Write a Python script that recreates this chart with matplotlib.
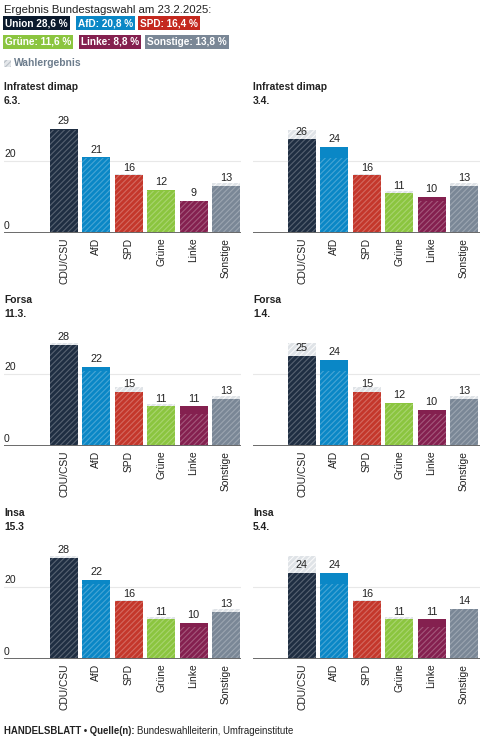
import matplotlib
matplotlib.use('Agg')
import matplotlib.pyplot as plt
from matplotlib.patches import Rectangle

plt.rcParams['font.family'] = ['Liberation Sans', 'DejaVu Sans']
plt.rcParams['hatch.linewidth'] = 0.8

# data
parties = ['CDU/CSU', 'AfD', 'SPD', 'Grüne', 'Linke', 'Sonstige']
badge_labels = ['Union 28,6 %', 'AfD: 20,8 %', 'SPD: 16,4 %',
                'Grüne: 11,6 %', 'Linke: 8,8 %', 'Sonstige: 13,8 %']
election = [28.6, 20.8, 16.4, 11.6, 8.8, 13.8]
colors = ['#1f2e42', '#0a87c6', '#c4372b', '#8bc53f', '#84204f', '#7a8796']
badge_colors = ['#0b1a2d', '#0a87c6', '#c4281e', '#8bc53f', '#84204f', '#7a8796']

institutes = ['Infratest dimap', 'Infratest dimap', 'Forsa', 'Forsa', 'Insa', 'Insa']
dates = ['6.3.', '3.4.', '11.3.', '1.4.', '15.3', '5.4.']
infratest_0603 = [29, 21, 16, 12, 9, 13]
infratest_0304 = [26, 24, 16, 11, 10, 13]
forsa_1103 = [28, 22, 15, 11, 11, 13]
forsa_0104 = [25, 24, 15, 12, 10, 13]
insa_1503 = [28, 22, 16, 11, 10, 13]
insa_0504 = [24, 24, 16, 11, 11, 14]
polls = [infratest_0603, infratest_0304, forsa_1103, forsa_0104, insa_1503, insa_0504]

W, H = 500, 743
fig = plt.figure(figsize=(W / 100, H / 100), dpi=100)


def fx(x):
    return x / W


def fy(y):
    return 1 - y / H


TXT = '#222222'

# header
fig.text(fx(4), fy(10), 'Ergebnis Bundestagswahl am 23.2.2025:', fontsize=8.2,
         color=TXT, va='center', ha='left')
badge_pos = [(5, 23), (78, 23), (140, 23), (5, 42), (81, 42), (147, 42)]
for (bx, by), lab, c in zip(badge_pos, badge_labels, badge_colors):
    fig.text(fx(bx), fy(by), lab, fontsize=7.2, fontweight='bold', color='white',
             va='center', ha='left',
             bbox=dict(boxstyle='square,pad=0.22', fc=c, ec='none'))

# legend
fig.patches.append(Rectangle((fx(4), fy(67)), fx(7), 7 / H, transform=fig.transFigure,
                             fc='#e4e7ea', ec='#b8bfc6', hatch='//////', lw=0))
fig.text(fx(14), fy(63.5), 'Wahlergebnis', fontsize=7.4, fontweight='bold',
         color='#6c7c8c', va='center', ha='left')

# panels
baselines = [233, 446, 659]
ppu = 3.6  # pixel per unit
ytop = 31
bw = 0.864
for k, poll in enumerate(polls):
    row, col = divmod(k, 2)
    base = baselines[row]
    if col == 0:
        x0, x1, cx0 = 4, 241, 64
    else:
        x0, x1, cx0 = 253, 480, 302
    step = 32.4
    ax = fig.add_axes([fx(x0), fy(base), (x1 - x0) / W, ytop * ppu / H])
    ax.set_xlim(-(cx0 - x0) / step, (x1 - cx0) / step)
    ax.set_ylim(0, ytop)
    ax.axis('off')
    ax.axhline(20, color='#e8e8e8', lw=0.8, zorder=0)
    ax.axhline(0, color='#6a6a6a', lw=1.4, zorder=5)
    if col == 0:
        ax.text(ax.get_xlim()[0], 0.6, '0', fontsize=7.5, color=TXT, va='bottom', ha='left')
        ax.text(ax.get_xlim()[0], 20.6, '20', fontsize=7.5, color=TXT, va='bottom', ha='left')

    for i, (p, e, c) in enumerate(zip(poll, election, colors)):
        low = min(p, e)
        ax.bar(i, low, width=bw, color=c, lw=0, zorder=2)
        ax.bar(i, low, width=bw, facecolor='none', edgecolor=(1, 1, 1, 0.25),
               hatch='//////', lw=0, zorder=3)
        if p > e:
            ax.bar(i, p - e, bottom=e, width=bw, color=c, lw=0, zorder=2)
        elif e > p:
            ax.bar(i, e - p, bottom=p, width=bw, color='#dfe3e7', lw=0, zorder=2)
            ax.bar(i, e - p, bottom=p, width=bw, facecolor='none',
                   edgecolor=(1, 1, 1, 0.8), hatch='//////', lw=0, zorder=3)
        ax.text(i, p + 0.8, str(p), fontsize=7.8, color=TXT, ha='center',
                va='bottom', zorder=6)
        ax.text(i, -1.3, parties[i], fontsize=7.4, color=TXT, rotation=90,
                ha='center', va='top', clip_on=False)

    fig.text(fx(x0), fy(base - 146), institutes[k], fontsize=7.4, fontweight='bold',
             color=TXT, va='center', ha='left')
    fig.text(fx(x0), fy(base - 132), dates[k], fontsize=7.4, fontweight='bold',
             color=TXT, va='center', ha='left')

# footer
t = fig.text(fx(4), fy(731), 'HANDELSBLATT • Quelle(n): ', fontsize=6.95, fontweight='bold',
             color=TXT, va='center', ha='left')
fig.canvas.draw()
bb = t.get_window_extent()
fig.text(bb.x1 / W, fy(731), 'Bundeswahlleiterin, Umfrageinstitute', fontsize=6.95,
         color=TXT, va='center', ha='left')

fig.savefig('out.png', dpi=100)
